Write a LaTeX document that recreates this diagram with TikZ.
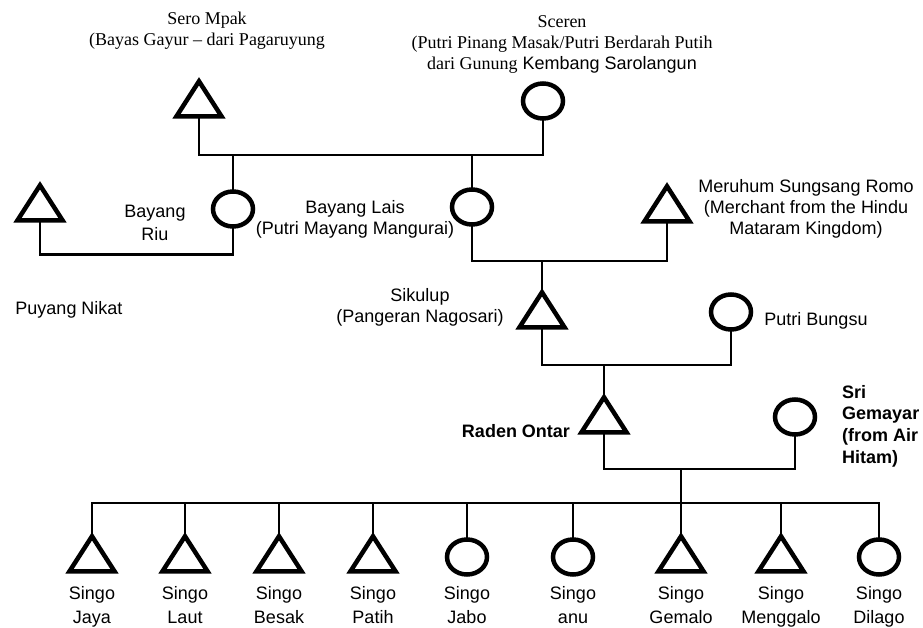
\documentclass[tikz,border=0pt]{standalone}
\usepackage{fontspec}
\setmainfont{Liberation Sans}
\newfontfamily\timesfont{Liberation Serif}
\usetikzlibrary{shapes.geometric}

\tikzset{
  male/.style={isosceles triangle, isosceles triangle stretches,
    shape border rotate=90, draw, line width=4.5pt, line join=miter,
    minimum width=45pt, minimum height=35pt, inner sep=0pt, outer sep=0pt},
  female/.style={ellipse, draw, line width=4.5pt,
    minimum width=40pt, minimum height=35pt, inner sep=0pt, outer sep=0pt},
  link/.style={line width=2.6pt},
  nametext/.style={align=center, inner sep=0pt, font=\fontsize{18}{21}\selectfont},
  childtext/.style={nametext, anchor=north},
}

\begin{document}
\begin{tikzpicture}[%
      x=1pt, y=-1pt,
      ]
      \useasboundingbox (0,0) rectangle (923,628);

      % first generation
      \node [male] (sero) at (199,104) {};
      \node [female] (sceren) at (543,101) {};
      \coordinate (m1) at (233,155);
      \draw [link] (sero.south) |- (m1) -| (sceren.south);

      % second generation
      \node [male] (puyang) at (40,208) {};
      \node [female] (riu) at (233,209) {};
      \node [female] (lais) at (472,207) {};
      \node [male] (meruhum) at (667,209) {};
      \draw [link] (m1) -- (riu.north);
      \draw [link] (lais.north) -- (lais.north |- m1);
      \draw [link] (puyang.south) -- ++(0,34) -| (riu.south);
      \coordinate (m2) at (542,261);
      \draw [link] (lais.south) |- (m2) -| (meruhum.south);

      % third and fourth generation
      \node [male] (sikulup) at (542,315) {};
      \node [female] (bungsu) at (731,312) {};
      \draw [link] (m2) -- (sikulup.north);
      \coordinate (m3) at (604,365);
      \draw [link] (sikulup.south) |- (m3) -| (bungsu.south);

      \node [male] (ontar) at (604,420) {};
      \node [female] (gemayar) at (795,417) {};
      \draw [link] (m3) -- (ontar.north);
      \coordinate (m4) at (681,469);
      \draw [link] (ontar.south) |- (m4) -| (gemayar.south);
      \coordinate (m5) at (681,503);
      \draw [link] (m4) -- (m5);

      % children
      \node [male] (jaya) at (92,559) {};
      \node [male] (laut) at (185,559) {};
      \node [male] (besak) at (279,559) {};
      \node [male] (patih) at (373,559) {};
      \node [female] (jabo) at (467,557) {};
      \node [female] (anu) at (573,557) {};
      \node [male] (gemalo) at (681,559) {};
      \node [male] (menggalo) at (781,559) {};
      \node [female] (dilago) at (879,557) {};
      \draw [link] (jaya.north) -- (jaya.north |- m5) -- (dilago.north |- m5) -- (dilago.north);
      \draw [link] (laut.north) -- (laut.north |- m5);
      \draw [link] (besak.north) -- (besak.north |- m5);
      \draw [link] (patih.north) -- (patih.north |- m5);
      \draw [link] (jabo.north) -- (jabo.north |- m5);
      \draw [link] (anu.north) -- (anu.north |- m5);
      \draw [link] (gemalo.north) -- (gemalo.north |- m5);
      \draw [link] (menggalo.north) -- (menggalo.north |- m5);

      % names
      \node [nametext] (t-sero) at (207,31) {\timesfont Sero Mpak\\\timesfont (Bayas Gayur \textendash{} dari Pagaruyung};
      \node [nametext] (t-sceren) at (562,44) {\timesfont Sceren\\\timesfont (Putri Pinang Masak/Putri Berdarah Putih\\{\timesfont dari Gunung} Kembang Sarolangun};
      \node [nametext] (t-riu) at (155,223) {Bayang\\[2pt]Riu};
      \node [nametext] (t-lais) at (355,219) {Bayang Lais\\(Putri Mayang Mangurai)};
      \node [nametext] (t-puyang) at (69,310) {Puyang Nikat};
      \node [nametext] (t-meruhum) at (806,209) {Meruhum Sungsang Romo\\(Merchant from the Hindu\\Mataram Kingdom)};
      \node [nametext] (t-sikulup) at (420,307) {Sikulup\\(Pangeran Nagosari)};
      \node [nametext] (t-bungsu) at (816,321) {Putri Bungsu};
      \node [nametext, font=\fontsize{18}{21}\selectfont\bfseries] (t-ontar) at (516,431) {Raden Ontar};
      \node [nametext, align=left, anchor=west, font=\fontsize{18}{21.7}\selectfont\bfseries] (t-gemayar) at (842,426) {Sri\\Gemayar\\(from Air\\Hitam)};

      \node [childtext] (t-jaya) at (92,586) {Singo\\[3pt]Jaya};
      \node [childtext] (t-laut) at (185,586) {Singo\\[3pt]Laut};
      \node [childtext] (t-besak) at (279,586) {Singo\\[3pt]Besak};
      \node [childtext] (t-patih) at (373,586) {Singo\\[3pt]Patih};
      \node [childtext] (t-jabo) at (467,586) {Singo\\[3pt]Jabo};
      \node [childtext] (t-anu) at (573,586) {Singo\\[3pt]anu};
      \node [childtext] (t-gemalo) at (681,586) {Singo\\[3pt]Gemalo};
      \node [childtext] (t-menggalo) at (781,586) {Singo\\[3pt]Menggalo};
      \node [childtext] (t-dilago) at (879,586) {Singo\\[3pt]Dilago};
      \end{tikzpicture}
\end{document}
